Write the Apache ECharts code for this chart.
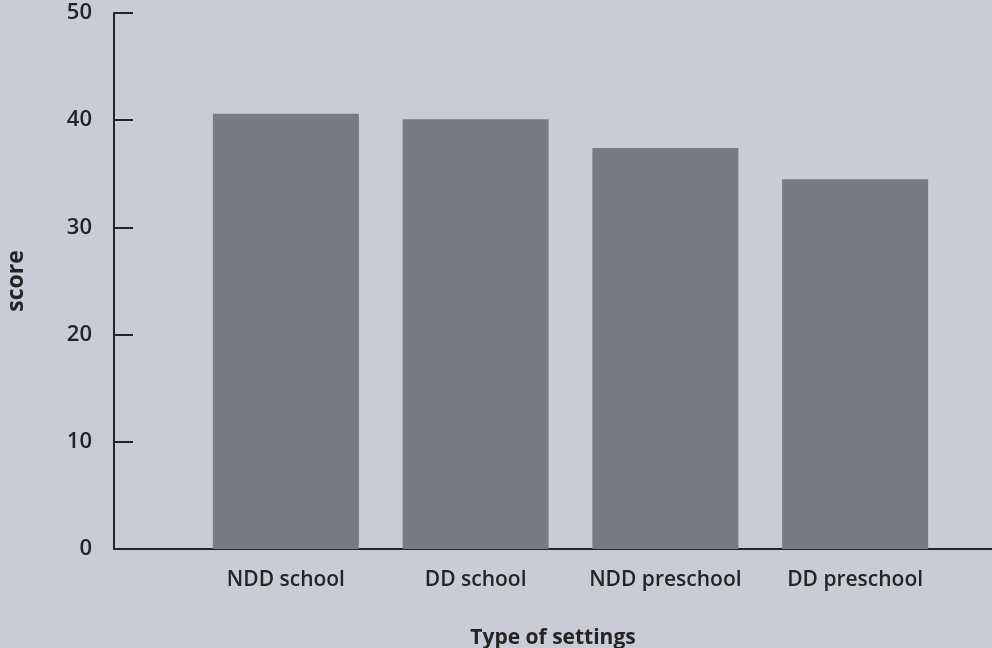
<!DOCTYPE html>
<html>
<head>
<meta charset="utf-8">
<script src="https://cdn.jsdelivr.net/npm/echarts@6/dist/echarts.min.js"></script>
<style>
html,body{margin:0;padding:0;background:#c9ccd4;}
#chart{width:992px;height:648px;}
</style>
</head>
<body>
<div id="chart"></div>
<script>
const categories = ['NDD school', 'DD school', 'NDD preschool', 'DD preschool'];
const scores = [40.6, 40.1, 37.4, 34.5];
const yTicks = [0, 10, 20, 30, 40, 50];
const xTitle = 'Type of settings';
const yTitle = 'score';

const FONT = '"Open Sans", "Noto Sans", sans-serif';
const INK = '#242424';

const chart = echarts.init(document.getElementById('chart'), null, {renderer: 'canvas'});
chart.setOption({
  backgroundColor: '#c9ccd4',
  animation: false,
  grid: [
    {left: 191, right: 42, top: 13, bottom: 99, outerBoundsMode: 'none', containLabel: false},
    {left: 114, right: 0, top: 13, bottom: 99, outerBoundsMode: 'none', containLabel: false}
  ],
  xAxis: [
    {
      type: 'category', gridIndex: 0, data: categories,
      axisLine: {show: false}, axisTick: {show: false},
      axisLabel: {interval: 0, color: INK, fontFamily: FONT, fontSize: 21, fontWeight: 600, margin: 21}
    },
    {
      type: 'value', gridIndex: 1, min: 0, max: 1,
      axisLine: {show: true, onZero: false, lineStyle: {color: INK, width: 2}},
      axisTick: {show: false}, axisLabel: {show: false}, splitLine: {show: false},
      name: xTitle, nameLocation: 'middle', nameGap: 79,
      nameTextStyle: {color: INK, fontFamily: FONT, fontSize: 21, fontWeight: 700}
    }
  ],
  yAxis: [
    {
      type: 'value', gridIndex: 0, min: yTicks[0], max: yTicks[yTicks.length - 1], interval: 10,
      show: false
    },
    {
      type: 'value', gridIndex: 1, min: yTicks[0], max: yTicks[yTicks.length - 1], interval: 10,
      axisLine: {show: true, lineStyle: {color: INK, width: 2}},
      axisTick: {show: true, inside: true, length: 19, lineStyle: {color: INK, width: 2}},
      axisLabel: {color: INK, fontFamily: FONT, fontSize: 22, fontWeight: 600, margin: 22},
      splitLine: {show: false},
      name: yTitle, nameLocation: 'middle', nameGap: 86, nameRotate: 90,
      nameTextStyle: {color: INK, fontFamily: FONT, fontSize: 23, fontWeight: 700}
    }
  ],
  series: [
    {
      type: 'bar', xAxisIndex: 0, yAxisIndex: 0, data: scores,
      barWidth: 146,
      itemStyle: {color: '#7a7b80'}
    }
  ]
});
</script>
</body>
</html>
